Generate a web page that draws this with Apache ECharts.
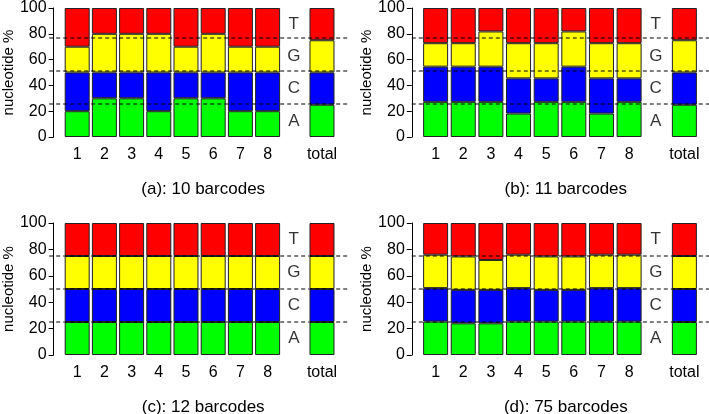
<!DOCTYPE html>
<html>
<head>
<meta charset="utf-8">
<script src="https://cdn.jsdelivr.net/npm/echarts@6/dist/echarts.min.js"></script>
<style>html,body{margin:0;padding:0;background:#fff}#c{width:709px;height:414px}</style>
</head>
<body>
<div id="c"></div>
<script>
// ---- data ----
const positions = ['1','2','3','4','5','6','7','8'];
const totalLabel = 'total';
const bases = ['A','C','G','T'];
const baseLabelValues = [12.5, 37.5, 62.5, 87.5];
const refLines = [25, 50, 75];
const yTicks = [0, 20, 40, 60, 80, 100];
const panelTitles = ['(a): 10 barcodes', '(b): 11 barcodes', '(c): 12 barcodes', '(d): 75 barcodes'];

// panel (a) 10 barcodes
const a_A = [20,30,30,20,30,30,20,20];
const a_C = [30,20,20,30,20,20,30,30];
const a_G = [20,30,30,30,20,30,20,20];
const a_T = [30,20,20,20,30,20,30,30];
const a_total = [25,25,25,25];
// panel (b) 11 barcodes
const b_A = [27.27,27.27,27.27,18.18,27.27,27.27,18.18,27.27];
const b_C = [27.27,27.27,27.27,27.27,18.18,27.27,27.27,18.18];
const b_G = [18.18,18.18,27.27,27.27,27.27,27.27,27.27,27.27];
const b_T = [27.27,27.27,18.18,27.27,27.27,18.18,27.27,27.27];
const b_total = [25,25,25,25];
// panel (c) 12 barcodes
const c_A = [25,25,25,25,25,25,25,25];
const c_C = [25,25,25,25,25,25,25,25];
const c_G = [25,25,25,25,25,25,25,25];
const c_T = [25,25,25,25,25,25,25,25];
const c_total = [25,25,25,25];
// panel (d) 75 barcodes
const d_A = [25.33,24,24,25.33,25.33,25.33,25.33,25.33];
const d_C = [25.33,25.33,25.33,25.33,24,24,25.33,25.33];
const d_G = [25.33,25.33,22.67,25.33,25.33,25.33,25.33,25.33];
const d_T = [24,25.33,28,24,25.33,25.33,24,24];
const d_total = [25,25,25,25];

const panels = [
  {A:a_A, C:a_C, G:a_G, T:a_T, total:a_total},
  {A:b_A, C:b_C, G:b_G, T:b_T, total:b_total},
  {A:c_A, C:c_C, G:c_G, T:c_T, total:c_total},
  {A:d_A, C:d_C, G:d_G, T:d_T, total:d_total}
];

// ---- styles / layout ----
const colors = {A:'#00ff00', C:'#0000ff', G:'#ffff00', T:'#ff0000'};
const FONT = '"Liberation Sans", Arial, sans-serif';
const layout = [
  {left:59.2, top:5},
  {left:421.8, top:5},
  {left:59.2, top:223},
  {left:421.8, top:223}
];
const GW = 276.4, GH = 132;

const categories = positions.concat([' ', totalLabel]);

const grid = [], xAxis = [], yAxis = [], series = [], title = [];
panels.forEach((p, i) => {
  const L = layout[i];
  grid.push({left:L.left, top:L.top, width:GW, height:GH, containLabel:false});
  grid.push({left:L.left - 10, top:L.top, width:298, height:GH, containLabel:false});
  xAxis.push({
    type:'category', gridIndex:i*2, data:categories,
    axisLine:{show:false}, axisTick:{show:false},
    axisLabel:{fontSize:16, color:'#000', fontFamily:FONT, margin:10, interval:0}
  });
  xAxis.push({type:'value', gridIndex:i*2+1, min:0, max:1, show:false});
  yAxis.push({
    type:'value', gridIndex:i*2, min:0, max:100, interval:20, offset:10,
    name:'nucleotide %', nameLocation:'middle', nameGap:35,
    nameTextStyle:{fontSize:15, color:'#000', fontFamily:FONT},
    axisLine:{show:true, lineStyle:{color:'#000', width:1}},
    axisTick:{show:true, length:5, lineStyle:{color:'#000'}},
    axisLabel:{fontSize:16, color:'#000', fontFamily:FONT, margin:7},
    splitLine:{show:false}
  });
  yAxis.push({type:'value', gridIndex:i*2+1, min:0, max:100, show:false});

  bases.forEach((b, k) => {
    const data = p[b].concat(['-', p.total[k]]);
    series.push({
      type:'bar', xAxisIndex:i*2, yAxisIndex:i*2, stack:'s'+i, barWidth:25,
      data:data,
      itemStyle:{color:colors[b], borderColor:'#222', borderWidth:1},
      emphasis:{disabled:true}, animation:false, z:2
    });
  });
  series.push({
    type:'scatter', xAxisIndex:i*2, yAxisIndex:i*2, symbolSize:0,
    data:bases.map((b, k) => ({value:[8, baseLabelValues[k]], name:b})),
    label:{show:true, position:'inside', formatter:'{b}', fontSize:17, color:'#000', fontFamily:FONT, offset:[-1,0]},
    animation:false, silent:true, z:3
  });
  refLines.forEach(v => {
    series.push({
      type:'line', xAxisIndex:i*2+1, yAxisIndex:i*2+1, symbol:'none',
      data:[[0, v],[1, v]],
      lineStyle:{color:'#000', width:1, type:[4,3]},
      animation:false, silent:true, z:5
    });
  });
  title.push({
    text:panelTitles[i], left:L.left - 10 + 149, top:L.top + 171, textAlign:'center',
    textStyle:{fontSize:17, fontWeight:'normal', color:'#000', fontFamily:FONT}
  });
});

const chart = echarts.init(document.getElementById('c'), null, {renderer:'canvas'});
chart.setOption({
  backgroundColor:'#ffffff',
  animation:false,
  title:title, grid:grid, xAxis:xAxis, yAxis:yAxis, series:series
});
</script>
</body>
</html>
